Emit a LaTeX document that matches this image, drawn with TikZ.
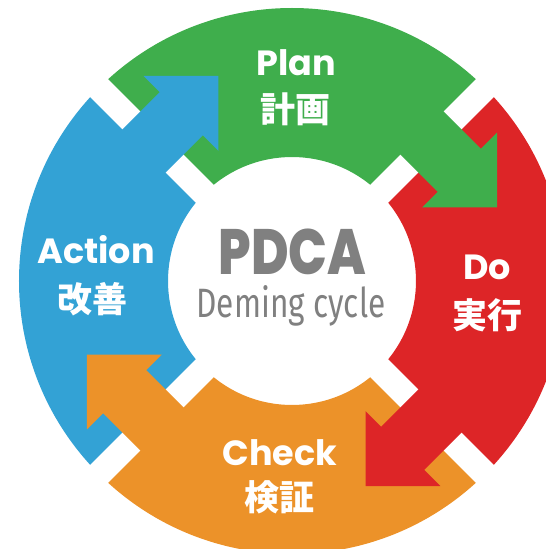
\documentclass[tikz,border=0pt]{standalone}
\usepackage{graphicx}
\usepackage{fontspec}
\setmainfont{Poppins}
\newfontfamily\cjk{Noto Sans CJK JP}
\newfontfamily\demingfont{Fira Sans}
\newfontfamily\pdcafont{Poppins ExtraBold}
\definecolor{plangreen}{RGB}{63,174,76}
\definecolor{dored}{RGB}{221,37,39}
\definecolor{checkorange}{RGB}{236,146,41}
\definecolor{actblue}{RGB}{51,162,213}
\definecolor{pdcagray}{RGB}{128,128,128}
\tikzstyle{phase} = [text=white, font=\bfseries\fontsize{35}{40}\selectfont, anchor=base, inner sep=0pt]
\tikzstyle{phasejp} = [text=white, font=\cjk\bfseries\fontsize{35}{40}\selectfont, inner sep=0pt]
\tikzstyle{title} = [text=pdcagray, font=\pdcafont\fontsize{64}{70}\selectfont, anchor=base, inner sep=0pt]
\tikzstyle{subtitle} = [text=pdcagray, font=\demingfont\fontsize{41}{48}\selectfont, anchor=base, inner sep=0pt]
\tikzstyle{gap} = [fill=white]

\begin{document}
\begin{tikzpicture}[x=1pt, y=1pt]
\useasboundingbox (-292,-268) rectangle (254,281);
\clip (-292,-268) rectangle (254,281);

% Ring quadrants
\foreach \a/\col in {45/plangreen, -45/dored, -135/checkorange, 135/actblue}
  \fill[\col] (\a:124) -- (\a:273) arc[start angle=\a, end angle=\a+90, radius=273]
    -- (\a+90:124) arc[start angle=\a+90, end angle=\a, radius=124] -- cycle;

% White gaps
\fill[gap, rotate=45] (-300,-12.7) rectangle (300,12.7);
\fill[gap, rotate=-45] (-300,-12.7) rectangle (300,12.7);

% Arrows
\foreach \r/\col in {45/plangreen, 135/actblue, 225/checkorange, 315/dored}
  \fill[\col, rotate=\r] (166,40) -- (166,-40) -- (144,-40) -- (197,-93)
    -- (250,-40) -- (227,-40) -- (227,40) -- cycle;

% Labels
\node (plan) [phase] at (4.5,205) {Plan};
\node (planjp) [phasejp] at (3.5,172) {計画};
\node (do) [phase] at (195,1.4) {Do};
\node (dojp) [phasejp] at (195,-34.5) {実行};
\node (check) [phase] at (-12,-184.5) {Check};
\node (checkjp) [phasejp] at (-12,-216) {検証};
\node (action) [phase] at (-196,17.4) {Action};
\node (actionjp) [phasejp] at (-199,-18) {改善};

% Centre
\node (pdca) [title] at (0.5,6) {\scalebox{0.8}[1]{PDCA}};
\node (deming) [subtitle] at (-1,-36) {\scalebox{0.77}[1]{Deming cycle}};

\end{tikzpicture}
\end{document}
